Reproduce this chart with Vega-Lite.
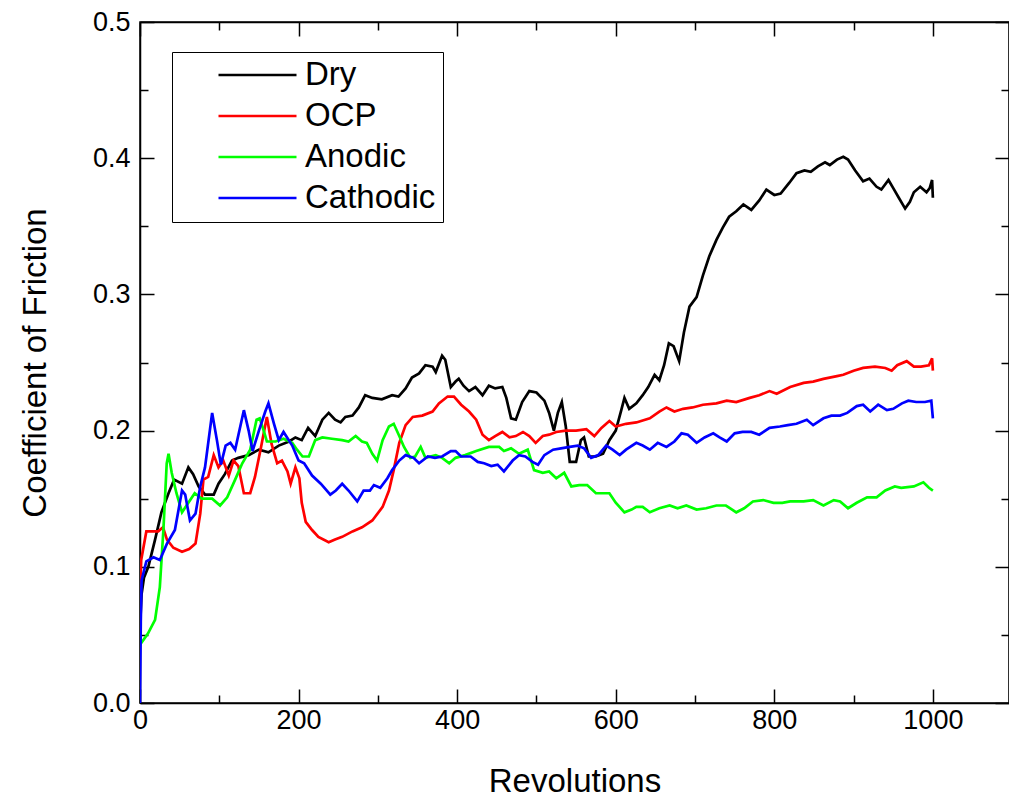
{
  "$schema": "https://vega.github.io/schema/vega-lite/v6.json",
  "width": 869,
  "height": 681,
  "autosize": {"type": "none"},
  "padding": {"left": 140, "top": 22, "right": 0, "bottom": 95},
  "background": "white",
  "config": {
    "view": {"stroke": "black", "strokeWidth": 1.5},
    "font": "Liberation Sans",
    "axis": {"grid": false, "domainColor": "black", "domainWidth": 1.5, "tickColor": "black", "tickWidth": 1.5, "labelColor": "black", "titleColor": "black", "titleFontWeight": "normal", "labelFont": "Liberation Sans", "titleFont": "Liberation Sans"}
  },
  "datasets": {
    "d": [
      {"series":"Dry","rev":0,"cof":0.055},{"series":"Dry","rev":2,"cof":0.08},{"series":"Dry","rev":5,"cof":0.092},{"series":"Dry","rev":10.5,"cof":0.1},{"series":"Dry","rev":19,"cof":0.12},{"series":"Dry","rev":27,"cof":0.14},{"series":"Dry","rev":36,"cof":0.154},{"series":"Dry","rev":43,"cof":0.164},{"series":"Dry","rev":53,"cof":0.161},{"series":"Dry","rev":61,"cof":0.173},{"series":"Dry","rev":67,"cof":0.168},{"series":"Dry","rev":74,"cof":0.159},{"series":"Dry","rev":82,"cof":0.153},{"series":"Dry","rev":93,"cof":0.153},{"series":"Dry","rev":99,"cof":0.161},{"series":"Dry","rev":107,"cof":0.168},{"series":"Dry","rev":116,"cof":0.178},{"series":"Dry","rev":124,"cof":0.18},{"series":"Dry","rev":137,"cof":0.182},{"series":"Dry","rev":150,"cof":0.186},{"series":"Dry","rev":162,"cof":0.184},{"series":"Dry","rev":175,"cof":0.189},{"series":"Dry","rev":188,"cof":0.192},{"series":"Dry","rev":196,"cof":0.195},{"series":"Dry","rev":204,"cof":0.193},{"series":"Dry","rev":212,"cof":0.202},{"series":"Dry","rev":221,"cof":0.196},{"series":"Dry","rev":230,"cof":0.208},{"series":"Dry","rev":238,"cof":0.213},{"series":"Dry","rev":246,"cof":0.208},{"series":"Dry","rev":253,"cof":0.206},{"series":"Dry","rev":259,"cof":0.21},{"series":"Dry","rev":268,"cof":0.211},{"series":"Dry","rev":276,"cof":0.217},{"series":"Dry","rev":284,"cof":0.226},{"series":"Dry","rev":293,"cof":0.224},{"series":"Dry","rev":305,"cof":0.223},{"series":"Dry","rev":318,"cof":0.226},{"series":"Dry","rev":326,"cof":0.225},{"series":"Dry","rev":335,"cof":0.231},{"series":"Dry","rev":343,"cof":0.239},{"series":"Dry","rev":352,"cof":0.242},{"series":"Dry","rev":360,"cof":0.248},{"series":"Dry","rev":369,"cof":0.247},{"series":"Dry","rev":373,"cof":0.243},{"series":"Dry","rev":381,"cof":0.255},{"series":"Dry","rev":385,"cof":0.252},{"series":"Dry","rev":392,"cof":0.232},{"series":"Dry","rev":398,"cof":0.236},{"series":"Dry","rev":402,"cof":0.238},{"series":"Dry","rev":408,"cof":0.233},{"series":"Dry","rev":415,"cof":0.229},{"series":"Dry","rev":423,"cof":0.232},{"series":"Dry","rev":432,"cof":0.226},{"series":"Dry","rev":440,"cof":0.233},{"series":"Dry","rev":448,"cof":0.231},{"series":"Dry","rev":457,"cof":0.232},{"series":"Dry","rev":462,"cof":0.224},{"series":"Dry","rev":468,"cof":0.209},{"series":"Dry","rev":474,"cof":0.208},{"series":"Dry","rev":482,"cof":0.221},{"series":"Dry","rev":491,"cof":0.229},{"series":"Dry","rev":500,"cof":0.228},{"series":"Dry","rev":510,"cof":0.222},{"series":"Dry","rev":516,"cof":0.213},{"series":"Dry","rev":522,"cof":0.2},{"series":"Dry","rev":527,"cof":0.213},{"series":"Dry","rev":532,"cof":0.221},{"series":"Dry","rev":537,"cof":0.203},{"series":"Dry","rev":542,"cof":0.177},{"series":"Dry","rev":550,"cof":0.177},{"series":"Dry","rev":556,"cof":0.193},{"series":"Dry","rev":560,"cof":0.195},{"series":"Dry","rev":566,"cof":0.181},{"series":"Dry","rev":575,"cof":0.181},{"series":"Dry","rev":584,"cof":0.183},{"series":"Dry","rev":592,"cof":0.193},{"series":"Dry","rev":600,"cof":0.2},{"series":"Dry","rev":607,"cof":0.215},{"series":"Dry","rev":611,"cof":0.224},{"series":"Dry","rev":617,"cof":0.216},{"series":"Dry","rev":626,"cof":0.22},{"series":"Dry","rev":634,"cof":0.226},{"series":"Dry","rev":641,"cof":0.232},{"series":"Dry","rev":649,"cof":0.241},{"series":"Dry","rev":655,"cof":0.237},{"series":"Dry","rev":661,"cof":0.248},{"series":"Dry","rev":667,"cof":0.264},{"series":"Dry","rev":673,"cof":0.262},{"series":"Dry","rev":680,"cof":0.251},{"series":"Dry","rev":686,"cof":0.272},{"series":"Dry","rev":693,"cof":0.291},{"series":"Dry","rev":702,"cof":0.298},{"series":"Dry","rev":710,"cof":0.314},{"series":"Dry","rev":718,"cof":0.328},{"series":"Dry","rev":727,"cof":0.34},{"series":"Dry","rev":735,"cof":0.349},{"series":"Dry","rev":743,"cof":0.357},{"series":"Dry","rev":752,"cof":0.361},{"series":"Dry","rev":761,"cof":0.366},{"series":"Dry","rev":771,"cof":0.362},{"series":"Dry","rev":781,"cof":0.369},{"series":"Dry","rev":790,"cof":0.377},{"series":"Dry","rev":800,"cof":0.373},{"series":"Dry","rev":808,"cof":0.374},{"series":"Dry","rev":819,"cof":0.382},{"series":"Dry","rev":828,"cof":0.389},{"series":"Dry","rev":838,"cof":0.391},{"series":"Dry","rev":846,"cof":0.39},{"series":"Dry","rev":855,"cof":0.394},{"series":"Dry","rev":864,"cof":0.397},{"series":"Dry","rev":870,"cof":0.395},{"series":"Dry","rev":879,"cof":0.399},{"series":"Dry","rev":887,"cof":0.401},{"series":"Dry","rev":893,"cof":0.399},{"series":"Dry","rev":902,"cof":0.391},{"series":"Dry","rev":912,"cof":0.383},{"series":"Dry","rev":920,"cof":0.385},{"series":"Dry","rev":929,"cof":0.379},{"series":"Dry","rev":935,"cof":0.377},{"series":"Dry","rev":944,"cof":0.384},{"series":"Dry","rev":950,"cof":0.378},{"series":"Dry","rev":957,"cof":0.371},{"series":"Dry","rev":965,"cof":0.363},{"series":"Dry","rev":971,"cof":0.368},{"series":"Dry","rev":976,"cof":0.375},{"series":"Dry","rev":984,"cof":0.379},{"series":"Dry","rev":992,"cof":0.375},{"series":"Dry","rev":996,"cof":0.378},{"series":"Dry","rev":999,"cof":0.384},{"series":"Dry","rev":1000,"cof":0.371},

      {"series":"OCP","rev":0,"cof":0.075},{"series":"OCP","rev":1.5,"cof":0.105},{"series":"OCP","rev":8,"cof":0.126},{"series":"OCP","rev":15,"cof":0.126},{"series":"OCP","rev":23,"cof":0.126},{"series":"OCP","rev":29,"cof":0.129},{"series":"OCP","rev":34,"cof":0.12},{"series":"OCP","rev":42,"cof":0.114},{"series":"OCP","rev":53,"cof":0.111},{"series":"OCP","rev":62,"cof":0.113},{"series":"OCP","rev":70,"cof":0.117},{"series":"OCP","rev":76,"cof":0.139},{"series":"OCP","rev":80,"cof":0.164},{"series":"OCP","rev":86,"cof":0.166},{"series":"OCP","rev":93,"cof":0.182},{"series":"OCP","rev":99,"cof":0.173},{"series":"OCP","rev":105,"cof":0.178},{"series":"OCP","rev":112,"cof":0.167},{"series":"OCP","rev":118,"cof":0.178},{"series":"OCP","rev":124,"cof":0.174},{"series":"OCP","rev":131,"cof":0.154},{"series":"OCP","rev":139,"cof":0.154},{"series":"OCP","rev":145,"cof":0.166},{"series":"OCP","rev":152,"cof":0.186},{"series":"OCP","rev":160,"cof":0.21},{"series":"OCP","rev":166,"cof":0.19},{"series":"OCP","rev":173,"cof":0.176},{"series":"OCP","rev":179,"cof":0.178},{"series":"OCP","rev":186,"cof":0.17},{"series":"OCP","rev":190,"cof":0.161},{"series":"OCP","rev":196,"cof":0.173},{"series":"OCP","rev":201,"cof":0.165},{"series":"OCP","rev":204,"cof":0.147},{"series":"OCP","rev":209,"cof":0.133},{"series":"OCP","rev":217,"cof":0.127},{"series":"OCP","rev":225,"cof":0.122},{"series":"OCP","rev":238,"cof":0.118},{"series":"OCP","rev":246,"cof":0.12},{"series":"OCP","rev":255,"cof":0.122},{"series":"OCP","rev":268,"cof":0.126},{"series":"OCP","rev":280,"cof":0.129},{"series":"OCP","rev":293,"cof":0.134},{"series":"OCP","rev":306,"cof":0.144},{"series":"OCP","rev":314,"cof":0.156},{"series":"OCP","rev":320,"cof":0.171},{"series":"OCP","rev":327,"cof":0.191},{"series":"OCP","rev":335,"cof":0.204},{"series":"OCP","rev":344,"cof":0.21},{"series":"OCP","rev":356,"cof":0.211},{"series":"OCP","rev":369,"cof":0.214},{"series":"OCP","rev":377,"cof":0.22},{"series":"OCP","rev":388,"cof":0.225},{"series":"OCP","rev":396,"cof":0.225},{"series":"OCP","rev":405,"cof":0.219},{"series":"OCP","rev":415,"cof":0.214},{"series":"OCP","rev":424,"cof":0.208},{"series":"OCP","rev":432,"cof":0.197},{"series":"OCP","rev":440,"cof":0.193},{"series":"OCP","rev":448,"cof":0.196},{"series":"OCP","rev":457,"cof":0.199},{"series":"OCP","rev":466,"cof":0.195},{"series":"OCP","rev":474,"cof":0.196},{"series":"OCP","rev":483,"cof":0.199},{"series":"OCP","rev":491,"cof":0.196},{"series":"OCP","rev":499,"cof":0.191},{"series":"OCP","rev":508,"cof":0.196},{"series":"OCP","rev":516,"cof":0.197},{"series":"OCP","rev":525,"cof":0.199},{"series":"OCP","rev":537,"cof":0.2},{"series":"OCP","rev":550,"cof":0.2},{"series":"OCP","rev":563,"cof":0.201},{"series":"OCP","rev":573,"cof":0.196},{"series":"OCP","rev":582,"cof":0.202},{"series":"OCP","rev":592,"cof":0.207},{"series":"OCP","rev":600,"cof":0.203},{"series":"OCP","rev":613,"cof":0.205},{"series":"OCP","rev":626,"cof":0.206},{"series":"OCP","rev":643,"cof":0.209},{"series":"OCP","rev":655,"cof":0.214},{"series":"OCP","rev":664,"cof":0.217},{"series":"OCP","rev":674,"cof":0.214},{"series":"OCP","rev":685,"cof":0.216},{"series":"OCP","rev":697,"cof":0.217},{"series":"OCP","rev":710,"cof":0.219},{"series":"OCP","rev":727,"cof":0.22},{"series":"OCP","rev":740,"cof":0.222},{"series":"OCP","rev":752,"cof":0.221},{"series":"OCP","rev":769,"cof":0.224},{"series":"OCP","rev":781,"cof":0.226},{"series":"OCP","rev":794,"cof":0.229},{"series":"OCP","rev":803,"cof":0.227},{"series":"OCP","rev":820,"cof":0.232},{"series":"OCP","rev":837,"cof":0.235},{"series":"OCP","rev":849,"cof":0.236},{"series":"OCP","rev":862,"cof":0.238},{"series":"OCP","rev":879,"cof":0.24},{"series":"OCP","rev":887,"cof":0.241},{"series":"OCP","rev":900,"cof":0.244},{"series":"OCP","rev":912,"cof":0.246},{"series":"OCP","rev":927,"cof":0.247},{"series":"OCP","rev":940,"cof":0.246},{"series":"OCP","rev":948,"cof":0.244},{"series":"OCP","rev":955,"cof":0.248},{"series":"OCP","rev":967,"cof":0.251},{"series":"OCP","rev":976,"cof":0.247},{"series":"OCP","rev":985,"cof":0.247},{"series":"OCP","rev":995,"cof":0.248},{"series":"OCP","rev":999,"cof":0.253},{"series":"OCP","rev":1000,"cof":0.244},

      {"series":"Anodic","rev":0,"cof":0.045},{"series":"Anodic","rev":1.5,"cof":0.044},{"series":"Anodic","rev":10,"cof":0.051},{"series":"Anodic","rev":19,"cof":0.061},{"series":"Anodic","rev":25,"cof":0.085},{"series":"Anodic","rev":29.5,"cof":0.127},{"series":"Anodic","rev":33.7,"cof":0.176},{"series":"Anodic","rev":36,"cof":0.183},{"series":"Anodic","rev":40,"cof":0.169},{"series":"Anodic","rev":46,"cof":0.154},{"series":"Anodic","rev":53,"cof":0.14},{"series":"Anodic","rev":61,"cof":0.147},{"series":"Anodic","rev":69,"cof":0.154},{"series":"Anodic","rev":78,"cof":0.15},{"series":"Anodic","rev":91,"cof":0.15},{"series":"Anodic","rev":101,"cof":0.145},{"series":"Anodic","rev":110,"cof":0.151},{"series":"Anodic","rev":120,"cof":0.164},{"series":"Anodic","rev":129,"cof":0.176},{"series":"Anodic","rev":139,"cof":0.186},{"series":"Anodic","rev":147,"cof":0.208},{"series":"Anodic","rev":151,"cof":0.209},{"series":"Anodic","rev":156,"cof":0.2},{"series":"Anodic","rev":160,"cof":0.192},{"series":"Anodic","rev":171,"cof":0.192},{"series":"Anodic","rev":181,"cof":0.194},{"series":"Anodic","rev":192,"cof":0.191},{"series":"Anodic","rev":198,"cof":0.186},{"series":"Anodic","rev":205,"cof":0.181},{"series":"Anodic","rev":213,"cof":0.181},{"series":"Anodic","rev":221,"cof":0.193},{"series":"Anodic","rev":230,"cof":0.195},{"series":"Anodic","rev":242,"cof":0.194},{"series":"Anodic","rev":255,"cof":0.193},{"series":"Anodic","rev":263,"cof":0.192},{"series":"Anodic","rev":272,"cof":0.196},{"series":"Anodic","rev":280,"cof":0.192},{"series":"Anodic","rev":286,"cof":0.191},{"series":"Anodic","rev":293,"cof":0.183},{"series":"Anodic","rev":299,"cof":0.178},{"series":"Anodic","rev":306,"cof":0.193},{"series":"Anodic","rev":314,"cof":0.203},{"series":"Anodic","rev":320,"cof":0.205},{"series":"Anodic","rev":327,"cof":0.196},{"series":"Anodic","rev":333,"cof":0.188},{"series":"Anodic","rev":341,"cof":0.18},{"series":"Anodic","rev":347,"cof":0.181},{"series":"Anodic","rev":354,"cof":0.188},{"series":"Anodic","rev":360,"cof":0.18},{"series":"Anodic","rev":373,"cof":0.182},{"series":"Anodic","rev":381,"cof":0.18},{"series":"Anodic","rev":390,"cof":0.176},{"series":"Anodic","rev":398,"cof":0.18},{"series":"Anodic","rev":410,"cof":0.182},{"series":"Anodic","rev":424,"cof":0.185},{"series":"Anodic","rev":440,"cof":0.188},{"series":"Anodic","rev":453,"cof":0.188},{"series":"Anodic","rev":459,"cof":0.185},{"series":"Anodic","rev":468,"cof":0.187},{"series":"Anodic","rev":478,"cof":0.183},{"series":"Anodic","rev":489,"cof":0.186},{"series":"Anodic","rev":497,"cof":0.171},{"series":"Anodic","rev":508,"cof":0.169},{"series":"Anodic","rev":516,"cof":0.17},{"series":"Anodic","rev":525,"cof":0.165},{"series":"Anodic","rev":535,"cof":0.169},{"series":"Anodic","rev":544,"cof":0.159},{"series":"Anodic","rev":554,"cof":0.16},{"series":"Anodic","rev":564,"cof":0.16},{"series":"Anodic","rev":575,"cof":0.154},{"series":"Anodic","rev":584,"cof":0.154},{"series":"Anodic","rev":592,"cof":0.154},{"series":"Anodic","rev":600,"cof":0.147},{"series":"Anodic","rev":611,"cof":0.14},{"series":"Anodic","rev":620,"cof":0.142},{"series":"Anodic","rev":626,"cof":0.144},{"series":"Anodic","rev":634,"cof":0.144},{"series":"Anodic","rev":643,"cof":0.14},{"series":"Anodic","rev":655,"cof":0.143},{"series":"Anodic","rev":668,"cof":0.145},{"series":"Anodic","rev":678,"cof":0.143},{"series":"Anodic","rev":689,"cof":0.145},{"series":"Anodic","rev":702,"cof":0.142},{"series":"Anodic","rev":714,"cof":0.143},{"series":"Anodic","rev":727,"cof":0.145},{"series":"Anodic","rev":739,"cof":0.145},{"series":"Anodic","rev":752,"cof":0.14},{"series":"Anodic","rev":762,"cof":0.143},{"series":"Anodic","rev":773,"cof":0.148},{"series":"Anodic","rev":786,"cof":0.149},{"series":"Anodic","rev":799,"cof":0.147},{"series":"Anodic","rev":810,"cof":0.147},{"series":"Anodic","rev":820,"cof":0.148},{"series":"Anodic","rev":837,"cof":0.148},{"series":"Anodic","rev":849,"cof":0.149},{"series":"Anodic","rev":862,"cof":0.145},{"series":"Anodic","rev":875,"cof":0.149},{"series":"Anodic","rev":883,"cof":0.148},{"series":"Anodic","rev":893,"cof":0.143},{"series":"Anodic","rev":904,"cof":0.147},{"series":"Anodic","rev":917,"cof":0.151},{"series":"Anodic","rev":929,"cof":0.151},{"series":"Anodic","rev":940,"cof":0.156},{"series":"Anodic","rev":952,"cof":0.159},{"series":"Anodic","rev":960,"cof":0.158},{"series":"Anodic","rev":976,"cof":0.159},{"series":"Anodic","rev":988,"cof":0.162},{"series":"Anodic","rev":995,"cof":0.158},{"series":"Anodic","rev":1000,"cof":0.156},

      {"series":"Cathodic","rev":0,"cof":0.0},{"series":"Cathodic","rev":1,"cof":0.06},{"series":"Cathodic","rev":2,"cof":0.09},{"series":"Cathodic","rev":8,"cof":0.104},{"series":"Cathodic","rev":17,"cof":0.107},{"series":"Cathodic","rev":25,"cof":0.105},{"series":"Cathodic","rev":34,"cof":0.117},{"series":"Cathodic","rev":44,"cof":0.127},{"series":"Cathodic","rev":53,"cof":0.156},{"series":"Cathodic","rev":57,"cof":0.153},{"series":"Cathodic","rev":63,"cof":0.134},{"series":"Cathodic","rev":70,"cof":0.139},{"series":"Cathodic","rev":76,"cof":0.159},{"series":"Cathodic","rev":82,"cof":0.173},{"series":"Cathodic","rev":91,"cof":0.213},{"series":"Cathodic","rev":97,"cof":0.193},{"series":"Cathodic","rev":102,"cof":0.175},{"series":"Cathodic","rev":108,"cof":0.189},{"series":"Cathodic","rev":114,"cof":0.191},{"series":"Cathodic","rev":120,"cof":0.186},{"series":"Cathodic","rev":131,"cof":0.215},{"series":"Cathodic","rev":137,"cof":0.2},{"series":"Cathodic","rev":142,"cof":0.185},{"series":"Cathodic","rev":150,"cof":0.2},{"series":"Cathodic","rev":158,"cof":0.214},{"series":"Cathodic","rev":162,"cof":0.22},{"series":"Cathodic","rev":169,"cof":0.205},{"series":"Cathodic","rev":175,"cof":0.193},{"series":"Cathodic","rev":181,"cof":0.199},{"series":"Cathodic","rev":192,"cof":0.189},{"series":"Cathodic","rev":200,"cof":0.178},{"series":"Cathodic","rev":207,"cof":0.176},{"series":"Cathodic","rev":217,"cof":0.167},{"series":"Cathodic","rev":228,"cof":0.161},{"series":"Cathodic","rev":240,"cof":0.153},{"series":"Cathodic","rev":247,"cof":0.156},{"series":"Cathodic","rev":255,"cof":0.161},{"series":"Cathodic","rev":263,"cof":0.156},{"series":"Cathodic","rev":274,"cof":0.148},{"series":"Cathodic","rev":282,"cof":0.156},{"series":"Cathodic","rev":290,"cof":0.156},{"series":"Cathodic","rev":295,"cof":0.16},{"series":"Cathodic","rev":303,"cof":0.158},{"series":"Cathodic","rev":312,"cof":0.165},{"series":"Cathodic","rev":318,"cof":0.171},{"series":"Cathodic","rev":327,"cof":0.178},{"series":"Cathodic","rev":335,"cof":0.182},{"series":"Cathodic","rev":345,"cof":0.18},{"series":"Cathodic","rev":352,"cof":0.176},{"series":"Cathodic","rev":363,"cof":0.181},{"series":"Cathodic","rev":372,"cof":0.18},{"series":"Cathodic","rev":381,"cof":0.181},{"series":"Cathodic","rev":392,"cof":0.185},{"series":"Cathodic","rev":398,"cof":0.185},{"series":"Cathodic","rev":405,"cof":0.181},{"series":"Cathodic","rev":417,"cof":0.181},{"series":"Cathodic","rev":426,"cof":0.177},{"series":"Cathodic","rev":434,"cof":0.176},{"series":"Cathodic","rev":443,"cof":0.174},{"series":"Cathodic","rev":451,"cof":0.175},{"series":"Cathodic","rev":459,"cof":0.17},{"series":"Cathodic","rev":470,"cof":0.178},{"series":"Cathodic","rev":478,"cof":0.182},{"series":"Cathodic","rev":486,"cof":0.181},{"series":"Cathodic","rev":495,"cof":0.177},{"series":"Cathodic","rev":502,"cof":0.175},{"series":"Cathodic","rev":510,"cof":0.182},{"series":"Cathodic","rev":521,"cof":0.186},{"series":"Cathodic","rev":531,"cof":0.187},{"series":"Cathodic","rev":542,"cof":0.188},{"series":"Cathodic","rev":552,"cof":0.189},{"series":"Cathodic","rev":560,"cof":0.187},{"series":"Cathodic","rev":569,"cof":0.18},{"series":"Cathodic","rev":578,"cof":0.182},{"series":"Cathodic","rev":588,"cof":0.189},{"series":"Cathodic","rev":596,"cof":0.186},{"series":"Cathodic","rev":605,"cof":0.182},{"series":"Cathodic","rev":613,"cof":0.186},{"series":"Cathodic","rev":626,"cof":0.191},{"series":"Cathodic","rev":634,"cof":0.189},{"series":"Cathodic","rev":643,"cof":0.186},{"series":"Cathodic","rev":653,"cof":0.191},{"series":"Cathodic","rev":664,"cof":0.188},{"series":"Cathodic","rev":674,"cof":0.192},{"series":"Cathodic","rev":683,"cof":0.198},{"series":"Cathodic","rev":691,"cof":0.197},{"series":"Cathodic","rev":702,"cof":0.191},{"series":"Cathodic","rev":712,"cof":0.195},{"series":"Cathodic","rev":723,"cof":0.198},{"series":"Cathodic","rev":731,"cof":0.195},{"series":"Cathodic","rev":740,"cof":0.192},{"series":"Cathodic","rev":750,"cof":0.198},{"series":"Cathodic","rev":760,"cof":0.199},{"series":"Cathodic","rev":771,"cof":0.199},{"series":"Cathodic","rev":781,"cof":0.197},{"series":"Cathodic","rev":794,"cof":0.202},{"series":"Cathodic","rev":807,"cof":0.203},{"series":"Cathodic","rev":817,"cof":0.204},{"series":"Cathodic","rev":828,"cof":0.205},{"series":"Cathodic","rev":841,"cof":0.208},{"series":"Cathodic","rev":849,"cof":0.204},{"series":"Cathodic","rev":862,"cof":0.209},{"series":"Cathodic","rev":872,"cof":0.211},{"series":"Cathodic","rev":883,"cof":0.211},{"series":"Cathodic","rev":892,"cof":0.213},{"series":"Cathodic","rev":904,"cof":0.218},{"series":"Cathodic","rev":912,"cof":0.219},{"series":"Cathodic","rev":921,"cof":0.214},{"series":"Cathodic","rev":931,"cof":0.219},{"series":"Cathodic","rev":942,"cof":0.215},{"series":"Cathodic","rev":950,"cof":0.216},{"series":"Cathodic","rev":961,"cof":0.22},{"series":"Cathodic","rev":969,"cof":0.222},{"series":"Cathodic","rev":979,"cof":0.221},{"series":"Cathodic","rev":990,"cof":0.221},{"series":"Cathodic","rev":998,"cof":0.222},{"series":"Cathodic","rev":1000,"cof":0.209}
    ]
  },
  "data": {"name": "d"},
  "layer": [
    {
      "mark": {"type": "line", "strokeWidth": 2.7, "clip": true},
      "encoding": {
        "x": {
          "field": "rev", "type": "quantitative",
          "scale": {"domain": [0, 1096], "nice": false, "zero": false},
          "axis": {
            "orient": "bottom",
            "values": [0, 100, 200, 300, 400, 500, 600, 700, 800, 900, 1000],
            "format": "d",
            "tickSize": {"condition": {"test": "datum.value % 200 === 0", "value": -14}, "value": -8},
            "labelExpr": "datum.value % 200 === 0 ? datum.label : ''",
            "labelFontSize": 27,
            "labelPadding": 18,
            "labelFlush": false,
            "labelOverlap": false,
            "title": "Revolutions",
            "titleFontSize": 33,
            "titlePadding": 26
          }
        },
        "y": {
          "field": "cof", "type": "quantitative",
          "scale": {"domain": [0, 0.5], "nice": false},
          "axis": {
            "orient": "left",
            "values": [0, 0.05, 0.1, 0.15, 0.2, 0.25, 0.3, 0.35, 0.4, 0.45, 0.5],
            "format": ".1f",
            "tickSize": {"condition": {"test": "round(datum.value * 100) % 10 === 0", "value": -14}, "value": -8},
            "labelExpr": "round(datum.value * 100) % 10 === 0 ? datum.label : ''",
            "labelFontSize": 27,
            "labelPadding": 24,
            "labelFlush": false,
            "labelOverlap": false,
            "title": "Coefficient of Friction",
            "titleFontSize": 33,
            "titlePadding": 40
          }
        },
        "color": {
          "field": "series", "type": "nominal",
          "scale": {"domain": ["Dry", "OCP", "Anodic", "Cathodic"], "range": ["#000000", "#ff0000", "#00ff00", "#0000ff"]},
          "legend": {
            "orient": "none", "legendX": 32, "legendY": 30,
            "title": null,
            "symbolType": "stroke", "symbolSize": 6084, "symbolStrokeWidth": 2.7,
            "clipHeight": 32, "rowPadding": 8,
            "labelFontSize": 33, "labelFont": "Liberation Sans", "labelColor": "black", "labelOffset": 7, "labelLimit": 400,
            "symbolOffset": 38, "padding": 7,
            "strokeColor": "black", "fillColor": "white"
          }
        }
      }
    },
    {
      "mark": {"type": "point", "opacity": 0},
      "encoding": {
        "x": {
          "field": "rev", "type": "quantitative",
          "axis": {
            "orient": "top",
            "values": [0, 100, 200, 300, 400, 500, 600, 700, 800, 900, 1000],
            "tickSize": {"condition": {"test": "datum.value % 200 === 0", "value": -14}, "value": -8},
            "labels": false, "title": null
          }
        },
        "y": {
          "field": "cof", "type": "quantitative",
          "axis": {
            "orient": "right",
            "values": [0, 0.05, 0.1, 0.15, 0.2, 0.25, 0.3, 0.35, 0.4, 0.45, 0.5],
            "tickSize": {"condition": {"test": "round(datum.value * 100) % 10 === 0", "value": -14}, "value": -8},
            "labels": false, "title": null
          }
        }
      }
    }
  ],
  "resolve": {"axis": {"x": "independent", "y": "independent"}}
}
